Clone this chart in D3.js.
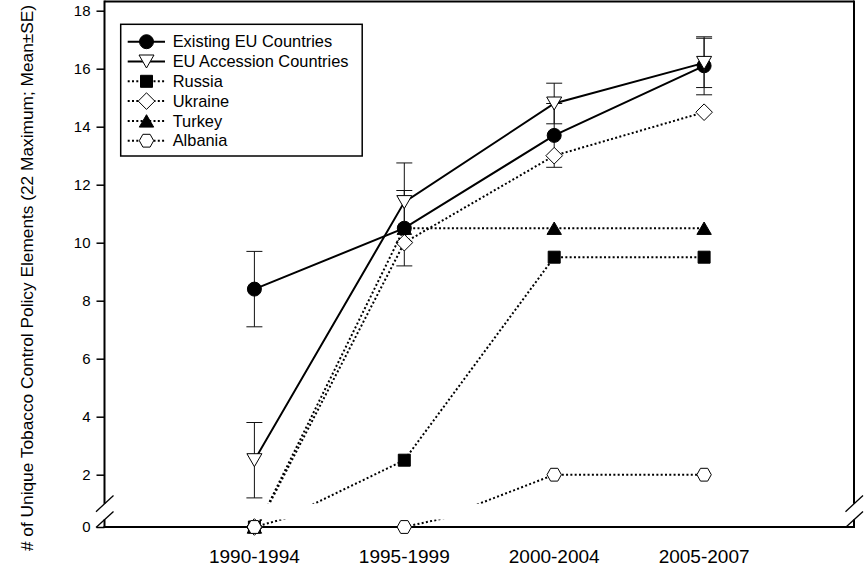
<!DOCTYPE html>
<html>
<head>
<meta charset="utf-8">
<script src="https://cdn.jsdelivr.net/npm/d3@7"></script>
<style>
  html, body { margin: 0; padding: 0; background: #fff; }
  svg { display: block; }
  text { font-family: "Liberation Sans", Arial, sans-serif; fill: #000; }
</style>
</head>
<body>
<svg id="chart" width="867" height="570"></svg>
<script>
// ---------- data ----------
const periods = ["1990-1994", "1995-1999", "2000-2004", "2005-2007"];
const existingEU = [8.4, 10.5, 13.7, 16.1];
const existingEU_se = [1.3, 1.3, 1.1, 1.0];
const euAccession = [2.5, 11.4, 14.8, 16.2];
const euAccession_se = [1.3, 1.35, 0.7, 0.85];
const russia = [0, 2.5, 9.5, 9.5];
const ukraine = [0, 10.0, 13.0, 14.5];
const turkey = [0, 10.5, 10.5, 10.5];
const albania = [0, 0, 2, 2];
const yTicksUpper = [2, 4, 6, 8, 10, 12, 14, 16, 18];
const yTicksLower = [0];
const seriesNames = ["Existing EU Countries", "EU Accession Countries", "Russia", "Ukraine", "Turkey", "Albania"];

const series = [
  { name: seriesNames[0], values: existingEU, se: existingEU_se, dotted: false, sym: "circle" },
  { name: seriesNames[1], values: euAccession, se: euAccession_se, dotted: false, sym: "triDown" },
  { name: seriesNames[2], values: russia, se: null, dotted: true, sym: "square" },
  { name: seriesNames[3], values: ukraine, se: null, dotted: true, sym: "diamond" },
  { name: seriesNames[4], values: turkey, se: null, dotted: true, sym: "triUp" },
  { name: seriesNames[5], values: albania, se: null, dotted: true, sym: "hexagon" }
];

// ---------- layout ----------
const svg = d3.select("#chart");
const left = 104.5, right = 854, frameTop = 1.5, bottom = 527;
const upperBottom = 503.7, lowerTop = 519.5;

const x = d3.scaleLinear().domain([0, 5]).range([left, right]);
const yU = d3.scaleLinear().domain([2, 18]).range([474.7, 10.7]);
const yL = d3.scaleLinear().domain([0, 1]).range([bottom, 510.5]);

const defs = svg.append("defs");
defs.append("clipPath").attr("id", "clipU").append("rect")
  .attr("x", left).attr("y", 0).attr("width", right - left).attr("height", upperBottom);
defs.append("clipPath").attr("id", "clipL").append("rect")
  .attr("x", left).attr("y", lowerTop).attr("width", right - left).attr("height", 20);

// ---------- axes ----------
const fmt = d3.format("d");
const axU = svg.append("g").attr("transform", `translate(${left},0)`)
  .call(d3.axisLeft(yU).tickValues(yTicksUpper).tickFormat(fmt).tickSizeInner(8).tickSizeOuter(0).tickPadding(6));
const axL = svg.append("g").attr("transform", `translate(${left},0)`)
  .call(d3.axisLeft(yL).tickValues(yTicksLower).tickFormat(fmt).tickSizeInner(8).tickSizeOuter(0).tickPadding(6));
[axU, axL].forEach(a => {
  a.select(".domain").remove();
  a.selectAll(".tick line").attr("stroke", "#000").attr("stroke-width", 1.5);
  a.selectAll(".tick text").style("font-size", "15px").attr("font-family", null);
});

const frame = svg.append("g").attr("stroke", "#000").attr("stroke-width", 2).attr("fill", "none");
// left axis (broken)
frame.append("line").attr("x1", left).attr("x2", left).attr("y1", frameTop - 1).attr("y2", upperBottom);
frame.append("line").attr("x1", left).attr("x2", left).attr("y1", lowerTop).attr("y2", bottom + 1);
// right axis (broken)
frame.append("line").attr("x1", right).attr("x2", right).attr("y1", frameTop - 1).attr("y2", upperBottom);
frame.append("line").attr("x1", right).attr("x2", right).attr("y1", lowerTop).attr("y2", bottom + 1);
// top and bottom
frame.append("line").attr("x1", left).attr("x2", right).attr("y1", frameTop).attr("y2", frameTop);
frame.append("line").attr("x1", left - 1).attr("x2", right + 1).attr("y1", bottom).attr("y2", bottom);
// break slashes
const slash = svg.append("g").attr("stroke", "#000").attr("stroke-width", 1.3);
[left, right].forEach(ax => {
  slash.append("line").attr("x1", ax - 8.5).attr("y1", 511.7).attr("x2", ax + 9).attr("y2", 495.5);
  slash.append("line").attr("x1", ax - 8.5).attr("y1", 527.5).attr("x2", ax + 9).attr("y2", 511.5);
});

// x labels
svg.append("g").selectAll("text").data(periods).join("text")
  .attr("x", (d, i) => x(i + 1)).attr("y", 563)
  .attr("text-anchor", "middle").style("font-size", "19px").text(d => d);

// y label
svg.append("text")
  .attr("transform", "translate(33,278) rotate(-90)")
  .attr("text-anchor", "middle").style("font-size", "17.3px")
  .text("# of Unique Tobacco Control Policy Elements (22 Maximum; Mean±SE)");

// ---------- symbols ----------
function symPath(type) {
  switch (type) {
    case "circle": return d3.symbol().type(d3.symbolCircle).size(Math.PI * 49)();
    case "triDown": return "M-7.5,-6.5L7.5,-6.5L0,6.5Z";
    case "triUp": return "M-7.2,6.2L7.2,6.2L0,-6.2Z";
    case "square": return "M-6,-6L6,-6L6,6L-6,6Z";
    case "diamond": return "M0,-8.3L8.3,0L0,8.3L-8.3,0Z";
    case "hexagon": return "M-7.2,0L-3.6,-6.4L3.6,-6.4L7.2,0L3.6,6.4L-3.6,6.4Z";
  }
}
const filled = { circle: true, triDown: false, triUp: true, square: true, diamond: false, hexagon: false };
const dash = "2,2.3";

const yPos = v => (v === 0 ? yL(v) : yU(v));

// ---------- series ----------
const plot = svg.append("g");
series.forEach(s => {
  const pts = s.values.map((v, i) => [i + 1, v]);
  const g = plot.append("g");
  const lineU = d3.line().x(d => x(d[0])).y(d => yU(d[1]));
  const lineL = d3.line().x(d => x(d[0])).y(d => yL(d[1]));
  [[lineU, "clipU"], [lineL, "clipL"]].forEach(([ln, cp]) => {
    g.append("path").attr("d", ln(pts)).attr("clip-path", `url(#${cp})`)
      .attr("fill", "none").attr("stroke", "#000").attr("stroke-width", 2)
      .attr("stroke-dasharray", s.dotted ? dash : null);
  });
  if (s.se) {
    const eg = g.append("g").attr("stroke", "#111").attr("stroke-width", 1);
    pts.forEach((p, i) => {
      const xc = x(p[0]);
      const lo = yU(p[1] - s.se[i]), hi = yU(p[1] + s.se[i]);
      eg.append("line").attr("x1", xc).attr("x2", xc).attr("y1", lo).attr("y2", hi);
      eg.append("line").attr("x1", xc - 8).attr("x2", xc + 8).attr("y1", lo).attr("y2", lo);
      eg.append("line").attr("x1", xc - 8).attr("x2", xc + 8).attr("y1", hi).attr("y2", hi);
    });
  }
  g.selectAll("path.m").data(pts).join("path").attr("class", "m")
    .attr("d", symPath(s.sym))
    .attr("transform", d => `translate(${x(d[0])},${yPos(d[1])})`)
    .attr("fill", filled[s.sym] ? "#000" : "#fff")
    .attr("stroke", "#000").attr("stroke-width", 1);
});

// ---------- legend ----------
const lg = svg.append("g");
lg.append("rect").attr("x", 120.7).attr("y", 24.3).attr("width", 241.5).attr("height", 131.7)
  .attr("fill", "#fff").attr("stroke", "#000").attr("stroke-width", 1.5);
series.forEach((s, i) => {
  const yy = 41.7 + i * 19.8;
  lg.append("line").attr("x1", 127.7).attr("x2", 165).attr("y1", yy).attr("y2", yy)
    .attr("stroke", "#000").attr("stroke-width", 2)
    .attr("stroke-dasharray", s.dotted ? dash : null);
  lg.append("path").attr("d", symPath(s.sym))
    .attr("transform", `translate(146.5,${yy})`)
    .attr("fill", filled[s.sym] ? "#000" : "#fff")
    .attr("stroke", "#000").attr("stroke-width", 1);
  lg.append("text").attr("x", 172.7).attr("y", yy).attr("dy", "0.35em")
    .style("font-size", "16.4px").text(s.name);
});
</script>
</body>
</html>
